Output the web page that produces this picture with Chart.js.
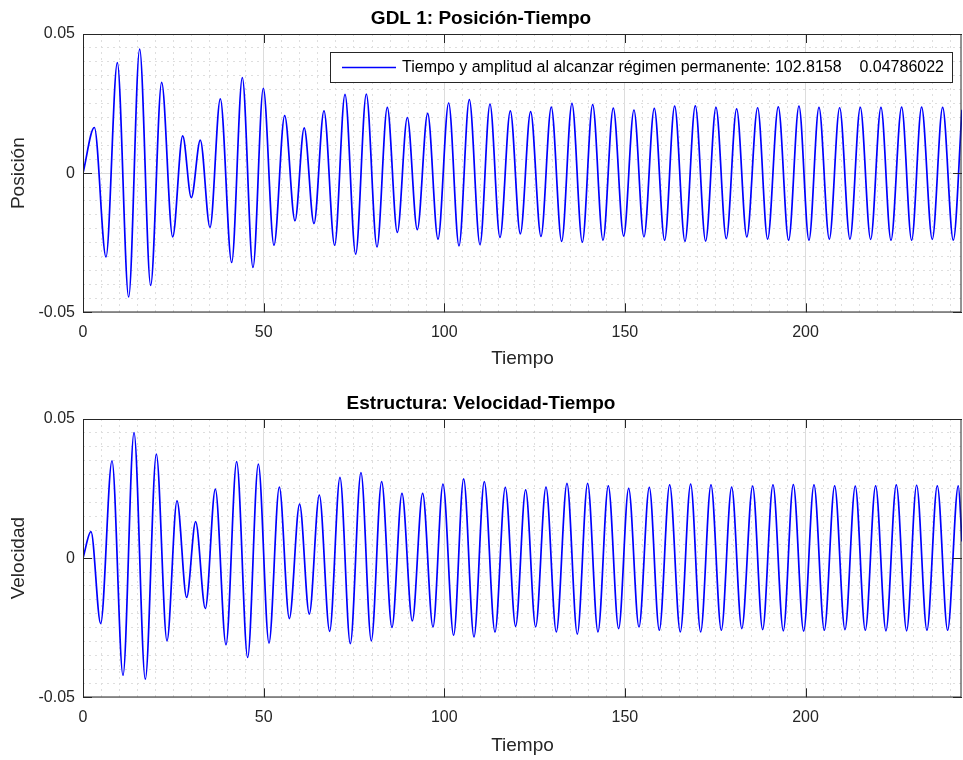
<!DOCTYPE html>
<html>
<head>
<meta charset="utf-8">
<script src="https://cdn.jsdelivr.net/npm/chart.js@4.4.1/dist/chart.umd.min.js"></script>
<style>
  html, body { margin: 0; padding: 0; background: #fff; }
  #fig { position: relative; width: 963px; height: 760px; overflow: hidden; }
  #fig canvas { position: absolute; left: 0; }
</style>
</head>
<body>
<div id="fig">
  <canvas id="posChart" width="963" height="373" style="top:0"></canvas>
  <canvas id="velChart" width="963" height="375" style="top:385px"></canvas>
</div>
<script>
// peaks and troughs of the position response (time, value)
var posT = [0, 3.14, 6.37, 9.50, 12.64, 15.68, 18.73, 21.77, 24.82, 27.59, 29.98,
  32.47, 35.15, 38.01, 41.15, 44.10, 47.05, 49.91, 52.86, 55.82, 58.68,
  61.22, 63.94, 66.70, 69.65, 72.52, 75.47, 78.42, 81.37, 84.23, 87.00,
  89.77, 92.53, 95.40, 98.26, 101.21, 104.07, 106.93, 109.88, 112.65, 115.42,
  118.28, 121.05, 123.90, 126.76, 129.62, 132.49, 135.34, 138.20, 141.07, 143.93,
  146.78, 149.65, 152.50, 155.27, 158.13, 160.99, 163.76, 166.62, 169.48, 172.34,
  175.20, 178.06, 180.92, 183.74, 186.73, 189.50, 192.45, 195.31, 198.17, 200.94,
  203.71, 206.57, 209.43, 212.29, 215.15, 218.01, 220.87, 223.64, 226.59, 229.36,
  232.12, 235.07, 237.94, 240.89, 243.3];
var posV = [0, 0.0164, -0.0301, 0.0397, -0.0445, 0.0446, -0.0403, 0.0326, -0.0229, 0.0134, -0.0088,
  0.0119, -0.0195, 0.0267, -0.0321, 0.0343, -0.0339, 0.0305, -0.0259, 0.0207, -0.0171,
  0.0163, -0.0181, 0.0224, -0.0259, 0.0283, -0.0291, 0.0284, -0.0265, 0.0236, -0.0213,
  0.0200, -0.0203, 0.0215, -0.0237, 0.0252, -0.0261, 0.0264, -0.0257, 0.0248, -0.0231,
  0.0224, -0.0218, 0.0221, -0.0227, 0.0237, -0.0245, 0.0251, -0.0248, 0.0246, -0.0241,
  0.0234, -0.0226, 0.0227, -0.0229, 0.0233, -0.0241, 0.0241, -0.0245, 0.0242, -0.0244,
  0.0236, -0.0235, 0.0231, -0.0229, 0.0235, -0.0237, 0.0238, -0.0241, 0.0241, -0.0241,
  0.0236, -0.0237, 0.0235, -0.0237, 0.0236, -0.0238, 0.0236, -0.0241, 0.0237, -0.0241,
  0.0237, -0.0238, 0.0236, -0.0241, 0.0228];

// peaks and troughs of the structure velocity
var velT = [0, 2.21, 4.89, 8.03, 11.07, 14.12, 17.25, 20.30, 23.25, 26.02, 28.69,
  31.18, 33.86, 36.63, 39.58, 42.53, 45.58, 48.53, 51.48, 54.34, 57.11,
  59.95, 62.64, 65.41, 68.27, 71.13, 73.99, 76.94, 79.80, 82.66, 85.52,
  88.29, 91.15, 94.01, 96.87, 99.64, 102.59, 105.36, 108.22, 111.08, 114.03,
  116.89, 119.75, 122.52, 125.29, 128.15, 131.01, 133.96, 136.82, 139.68, 142.54,
  145.40, 148.26, 151.03, 153.89, 156.75, 159.52, 162.38, 165.33, 168.19, 170.96,
  173.82, 176.68, 179.54, 182.35, 185.35, 188.12, 190.98, 193.84, 196.61, 199.47,
  202.33, 205.19, 208.05, 210.91, 213.76, 216.53, 219.39, 222.25, 225.11, 227.97,
  230.74, 233.60, 236.46, 239.32, 242.27, 243.3];
var velV = [0, 0.0095, -0.0235, 0.0350, -0.0421, 0.0451, -0.0435, 0.0374, -0.0297, 0.0206, -0.0141,
  0.0131, -0.0181, 0.0248, -0.0311, 0.0347, -0.0357, 0.0338, -0.0305, 0.0255, -0.0217,
  0.0194, -0.0201, 0.0227, -0.0263, 0.0290, -0.0307, 0.0307, -0.0297, 0.0275, -0.0249,
  0.0233, -0.0225, 0.0233, -0.0247, 0.0266, -0.0277, 0.0285, -0.0283, 0.0275, -0.0265,
  0.0254, -0.0245, 0.0245, -0.0247, 0.0255, -0.0265, 0.0269, -0.0273, 0.0269, -0.0265,
  0.0260, -0.0253, 0.0251, -0.0247, 0.0254, -0.0259, 0.0263, -0.0265, 0.0266, -0.0265,
  0.0263, -0.0259, 0.0255, -0.0253, 0.0259, -0.0257, 0.0263, -0.0261, 0.0264, -0.0262,
  0.0263, -0.0259, 0.0260, -0.0257, 0.0259, -0.0259, 0.0260, -0.0261, 0.0263, -0.0261,
  0.0262, -0.0259, 0.0260, -0.0259, 0.0260, 0.0060];

var xTicks = [0, 50, 100, 150, 200];
var xTickLabels = ['0', '50', '100', '150', '200'];
var yTicks = [-0.05, 0, 0.05];
var yTickLabels = ['-0.05', '0', '0.05'];
var tMax = 243.3;

var legendText = 'Tiempo y amplitud al alcanzar r\u00e9gimen permanente: 102.8158    0.04786022';

var FONT = '"Liberation Sans", Arial, Helvetica, sans-serif';
Chart.defaults.font.family = FONT;
Chart.defaults.color = '#262626';

// box around the axes with inward tick marks on all four sides
var axesBox = {
  id: 'axesBox',
  afterDraw: function (chart) {
    var ctx = chart.ctx, a = chart.chartArea;
    var xs = chart.scales.x, ys = chart.scales.y;
    var len = 9;
    ctx.save();
    ctx.strokeStyle = '#262626';
    ctx.lineWidth = 1;
    ctx.beginPath();
    xs.ticks.forEach(function (t) {
      var px = Math.round(xs.getPixelForValue(t.value)) + 0.5;
      ctx.moveTo(px, a.bottom); ctx.lineTo(px, a.bottom - len);
      ctx.moveTo(px, a.top); ctx.lineTo(px, a.top + len);
    });
    ys.ticks.forEach(function (t) {
      var py = Math.round(ys.getPixelForValue(t.value)) + 0.5;
      ctx.moveTo(a.left, py); ctx.lineTo(a.left + len, py);
      ctx.moveTo(a.right, py); ctx.lineTo(a.right - len, py);
    });
    ctx.stroke();
    var l = Math.round(a.left) + 0.5, tp = Math.round(a.top) + 0.5;
    ctx.strokeRect(l, tp, Math.round(a.right) - 1 - l, Math.round(a.bottom) - tp);
    ctx.restore();
  }
};

// legend box in the upper right corner of the position axes
var legendBox = {
  id: 'legendBox',
  afterDraw: function (chart) {
    var ctx = chart.ctx, a = chart.chartArea;
    ctx.save();
    ctx.font = '16px ' + FONT;
    var tw = ctx.measureText(legendText).width;
    var h = 30, lineLen = 54;
    var right = Math.round(a.right) - 10, top = Math.round(a.top) + 18;
    var left = Math.round(right - (12 + lineLen + 6 + tw + 8));
    ctx.fillStyle = '#fff';
    ctx.fillRect(left, top, right - left, h);
    ctx.strokeStyle = '#262626';
    ctx.lineWidth = 1;
    ctx.strokeRect(left + 0.5, top + 0.5, right - left, h);
    ctx.strokeStyle = '#0000ff';
    ctx.lineWidth = 1.5;
    ctx.beginPath();
    ctx.moveTo(left + 12, top + h / 2 + 0.5);
    ctx.lineTo(left + 12 + lineLen, top + h / 2 + 0.5);
    ctx.stroke();
    ctx.fillStyle = '#000';
    ctx.textBaseline = 'middle';
    ctx.fillText(legendText, left + 12 + lineLen + 6, top + h / 2 + 1);
    ctx.restore();
  }
};

function isMajor(v, step) {
  var k = v / step;
  return Math.abs(k - Math.round(k)) < 1e-6;
}

function makeChart(id, title, yLabel, t, v, xHeight, extra) {
  var points = t.map(function (tt, i) { return {x: tt, y: v[i]}; });
  return new Chart(document.getElementById(id), {
    type: 'line',
    data: {
      datasets: [{
        data: points,
        borderColor: '#0000ff',
        borderWidth: 1.7,
        pointRadius: 0,
        cubicInterpolationMode: 'monotone',
        fill: false
      }]
    },
    options: {
      responsive: false,
      animation: false,
      events: [],
      layout: { padding: { left: 0, right: 1, top: 0, bottom: 0 } },
      plugins: {
        legend: { display: false },
        tooltip: { enabled: false },
        title: {
          display: true,
          text: title,
          color: '#000',
          font: { size: 19, weight: 'bold' },
          padding: { top: 7, bottom: 4.2 }
        }
      },
      scales: {
        x: {
          type: 'linear', position: 'bottom', min: 0, max: tMax,
          afterBuildTicks: function (s) { s.ticks = xTicks.map(function (val) { return {value: val}; }); },
          afterFit: function (s) { s.height = xHeight; },
          ticks: {
            padding: 11, maxRotation: 0, autoSkip: false, font: { size: 16 },
            callback: function (val, i) { return xTickLabels[i]; }
          },
          grid: { color: '#dcdcdc', drawTicks: false },
          border: { display: false },
          title: { display: true, text: 'Tiempo', font: { size: 19 }, padding: { top: 0, bottom: 3 } }
        },
        xMinor: {
          type: 'linear', position: 'bottom', min: 0, max: tMax,
          afterFit: function (s) { s.height = 0; },
          ticks: { display: false, stepSize: 5, includeBounds: false, autoSkip: false },
          grid: {
            drawTicks: false,
            color: function (c) { return c.tick && isMajor(c.tick.value, 50) ? 'rgba(0,0,0,0)' : '#dedede'; }
          },
          border: { display: false, dash: [2, 4] }
        },
        y: {
          type: 'linear', position: 'left', min: -0.05, max: 0.05,
          afterBuildTicks: function (s) { s.ticks = yTicks.map(function (val) { return {value: val}; }); },
          afterFit: function (s) { s.width = 83; },
          ticks: {
            padding: 8, font: { size: 16 },
            callback: function (val, i) { return yTickLabels[i]; }
          },
          grid: { color: '#dcdcdc', drawTicks: false },
          border: { display: false },
          title: { display: true, text: yLabel, font: { size: 19 }, padding: { top: 7, bottom: 0 } }
        },
        yMinor: {
          type: 'linear', position: 'left', min: -0.05, max: 0.05,
          afterFit: function (s) { s.width = 0; },
          ticks: { display: false, stepSize: 0.005, includeBounds: false, autoSkip: false },
          grid: {
            drawTicks: false,
            color: function (c) { return c.tick && isMajor(c.tick.value, 0.05) ? 'rgba(0,0,0,0)' : '#dedede'; }
          },
          border: { display: false, dash: [2, 4] }
        }
      }
    },
    plugins: [axesBox].concat(extra || [])
  });
}

makeChart('posChart', 'GDL 1: Posici\u00f3n-Tiempo', 'Posici\u00f3n', posT, posV, 60.7, [legendBox]);
makeChart('velChart', 'Estructura: Velocidad-Tiempo', 'Velocidad', velT, velV, 62.7);
</script>
</body>
</html>
